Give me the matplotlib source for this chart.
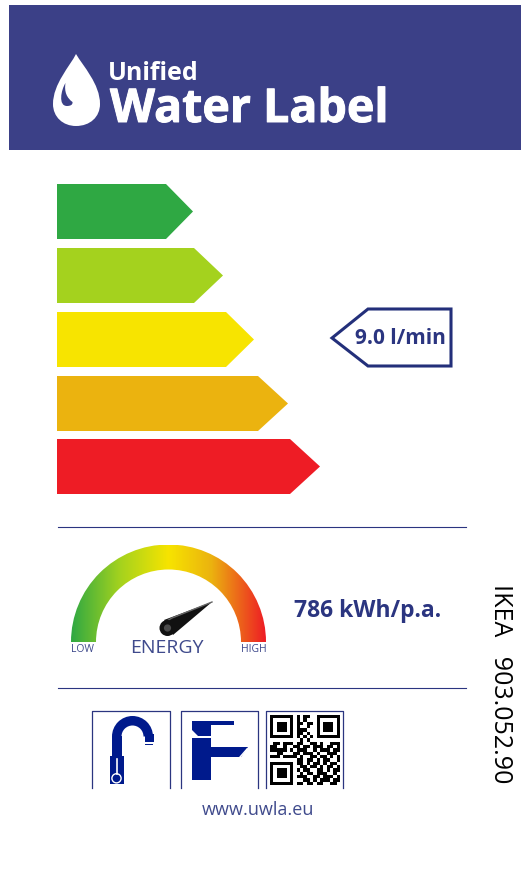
import numpy as np
import matplotlib
matplotlib.use("Agg")
import matplotlib.pyplot as plt
import matplotlib.patheffects as pe
from matplotlib.colors import LinearSegmentedColormap
from matplotlib.patches import Rectangle, Polygon, Circle, PathPatch, Wedge
from matplotlib.path import Path

plt.rcParams['font.family'] = ['Open Sans', 'DejaVu Sans']

# rating arrows
arrow_tops = [184, 248, 312, 376, 439]
arrow_bottoms = [239, 303, 367, 431, 494]
arrow_body_ends = [166, 194, 226, 258, 290]
arrow_tips = [193, 223, 254, 288, 320]
arrow_colors = ['#2FA843', '#A4D21E', '#F7E400', '#EBB30F', '#EE1C25']

flow_label = '9.0 l/min'
energy_label = '786 kWh/p.a.'
product_label = 'IKEA   903.052.90'
site_label = 'www.uwla.eu'

gauge_stops = [(0.0, '#2FA843'), (0.25, '#A4D21E'), (0.5, '#F7E400'), (0.72, '#EBB30F'), (1.0, '#EE1C25')]

qr_rows = [
    "111111101011001111111",
    "100000101010001000001",
    "101110101101101011101",
    "101110101001001011101",
    "101110101110001011101",
    "100000101101001000001",
    "111111101010101111111",
    "000000000101000000000",
    "011011101100110100111",
    "110010011011011101101",
    "111110101110010111011",
    "001100011011101001110",
    "111011110100110110101",
    "000000001101101011001",
    "111111101101011010110",
    "100000100110110101101",
    "101110101011001101011",
    "101110100101101110010",
    "101110101110011011101",
    "100000100011010111011",
    "111111101101101100110",
]

navy = '#2B3580'
header = '#3B4087'
tap = '#001A8C'

fig = plt.figure(figsize=(5.31, 8.74), dpi=100)
ax = fig.add_axes([0, 0, 1, 1])

# header
ax.add_patch(Rectangle((9, 5), 512, 145, fc=header, ec='none'))
drop = Path([(76, 54), (70, 66), (53, 84), (53, 104), (53, 117), (63, 126), (76, 126),
             (90, 126), (100, 117), (100, 104), (100, 84), (83, 66), (76, 54)],
            [1, 4, 4, 4, 4, 4, 4, 4, 4, 4, 4, 4, 4])
ax.add_patch(PathPatch(drop, fc='white', ec='none'))
hole = Path([(65.5, 83), (61, 90), (58, 106), (67, 106), (70, 106), (73, 105), (72.5, 102),
             (67, 98), (64, 92), (65.5, 83)],
            [1, 4, 4, 4, 4, 4, 4, 4, 4, 4])
ax.add_patch(PathPatch(hole, fc=header, ec='none'))
ax.text(108, 79.5, 'Unified', color='white', fontsize=18, fontweight='bold', va='baseline', ha='left')
ax.text(110, 122, 'Water Label', color='white', fontsize=33.5, fontweight='bold', va='baseline', ha='left',
        path_effects=[pe.withStroke(linewidth=0.7, foreground='white')])

# arrows
for top, bot, body, tip, col in zip(arrow_tops, arrow_bottoms, arrow_body_ends, arrow_tips, arrow_colors):
    ax.add_patch(Polygon([(57, top), (body, top), (tip, (top + bot) / 2), (body, bot), (57, bot)],
                         fc=col, ec='none'))

ax.add_patch(Polygon([(451, 309), (368, 309), (332, 338), (368, 366), (451, 366)],
                     fc='white', ec='#232F7A', lw=2.2, joinstyle='miter'))
ax.text(400.5, 338, flow_label, color=navy, fontsize=15, fontweight='bold', va='center', ha='center')

# separators
ax.plot([58, 466], [527, 527], color=navy, lw=0.8)
ax.plot([58, 466], [688, 688], color=navy, lw=0.8)

# gauge
cmap = LinearSegmentedColormap.from_list('gauge', gauge_stops)
im = ax.imshow(np.linspace(0, 1, 256).reshape(1, -1), cmap=cmap, extent=(71, 266, 642, 545), aspect='auto', zorder=2)
ring = Wedge((168.5, 642), 97.5, 180, 360, width=25, fc='none', ec='none', transform=ax.transData)
ax.add_patch(ring)
im.set_clip_path(ring)

ax.add_patch(Polygon([(212, 602), (164, 620), (173, 635)], fc='#111111', ec='none', zorder=3))
ax.plot([212, 172, 165], [602, 618, 622], color='#666666', lw=1.0, zorder=4)
ax.add_patch(Circle((167.5, 628), 8, fc='#111111', ec='none', zorder=4))
ax.add_patch(Circle((167.5, 628), 3.6, fc='#4A4A4A', ec='none', zorder=5))

ax.text(166.5, 648, 'ENERGY', color='#3F4A8C', fontsize=14, va='center', ha='center')
ax.text(82, 650, 'LOW', color='#3F4A8C', fontsize=7.5, va='center', ha='center')
ax.text(253.5, 650, 'HIGH', color='#3F4A8C', fontsize=7.5, va='center', ha='center')
ax.text(294, 611, energy_label, color=navy, fontsize=16.5, fontweight='bold', va='center', ha='left')
ax.text(501, 684, product_label, color='black', fontsize=18, rotation=270, va='center', ha='center')

# icon boxes, open at the bottom
for x0, x1 in [(92, 170), (181, 258), (266, 343)]:
    ax.plot([x0, x0, x1, x1], [788, 711, 711, 788], color=navy, lw=0.9)

# tap 1
ax.add_patch(Rectangle((110, 756), 13.5, 28, fc=tap, ec='none'))
ax.add_patch(Rectangle((112, 736), 9.5, 20, fc=tap, ec='none'))
ax.add_patch(Wedge((132.5, 736.5), 20.5, 180, 360, width=9.5, fc=tap, ec='none'))
ax.add_patch(Rectangle((144.5, 734), 9.5, 8, fc=tap, ec='none'))
ax.plot([145, 152], [743.5, 743.5], color=tap, lw=0.7)
ax.plot([116.5, 116.5], [759, 774], color='white', lw=1.2)
ax.add_patch(Circle((116.5, 778.3), 4.6, fc=tap, ec='white', lw=1.0))

# tap 2
ax.add_patch(Polygon([(192, 721), (234, 721), (234, 725), (211, 725), (211, 736), (198, 736), (192, 730)],
                     fc=tap, ec='none'))
ax.add_patch(Rectangle((192, 738), 19, 42, fc=tap, ec='none'))
ax.add_patch(Polygon([(211, 747), (248, 747), (241, 757), (211, 757)], fc=tap, ec='none'))
ax.plot([240, 247], [757, 749], color='white', lw=1.0, zorder=3)

# qr code
qr = np.array([[int(c) for c in row] for row in qr_rows])
ax.imshow(1 - qr, cmap='gray', vmin=0, vmax=1, extent=(270, 340, 785, 715), aspect='auto',
          interpolation='nearest', zorder=2)

ax.text(257.5, 810, site_label, color='#3F4A8C', fontsize=13, va='center', ha='center')

ax.set_xlim(0, 531)
ax.set_ylim(874, 0)
ax.axis('off')
fig.savefig('out.png', dpi=100, facecolor='white')
